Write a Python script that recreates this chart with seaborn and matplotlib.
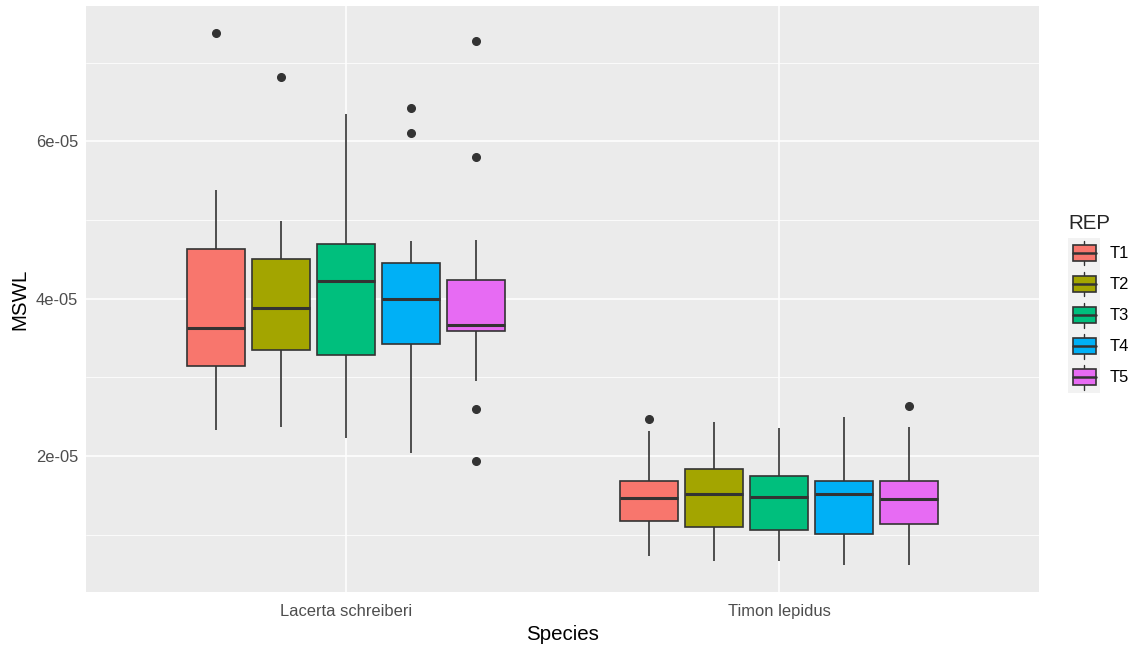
import numpy as np
import pandas as pd
import matplotlib
matplotlib.use("Agg")
import matplotlib.pyplot as plt
import seaborn as sns
from matplotlib.legend_handler import HandlerBase
from matplotlib.patches import Rectangle, Patch
from matplotlib.lines import Line2D
from matplotlib.ticker import FixedLocator, FuncFormatter

# ---------------- data (in MSWL units) ----------------
species = ["Lacerta schreiberi", "Timon lepidus"]
reps = ["T1", "T2", "T3", "T4", "T5"]
colors = ["#F8766D", "#A3A500", "#00BF7D", "#00B0F6", "#E76BF3"]

lacerta_low = [2.33e-5, 2.37e-5, 2.23e-5, 2.04e-5, 2.95e-5]
lacerta_q1 = [3.14e-5, 3.35e-5, 3.28e-5, 3.42e-5, 3.59e-5]
lacerta_med = [3.63e-5, 3.88e-5, 4.22e-5, 4.00e-5, 3.67e-5]
lacerta_q3 = [4.63e-5, 4.50e-5, 4.69e-5, 4.45e-5, 4.24e-5]
lacerta_high = [5.38e-5, 4.98e-5, 6.35e-5, 4.73e-5, 4.75e-5]
lacerta_out_low = [[], [], [], [], [2.60e-5, 1.94e-5]]
lacerta_out_high = [[7.38e-5], [6.81e-5], [], [6.11e-5, 6.42e-5], [5.80e-5, 7.28e-5]]

timon_low = [0.73e-5, 0.66e-5, 0.66e-5, 0.61e-5, 0.61e-5]
timon_q1 = [1.18e-5, 1.10e-5, 1.06e-5, 1.01e-5, 1.14e-5]
timon_med = [1.465e-5, 1.52e-5, 1.48e-5, 1.52e-5, 1.45e-5]
timon_q3 = [1.68e-5, 1.83e-5, 1.75e-5, 1.68e-5, 1.68e-5]
timon_high = [2.32e-5, 2.43e-5, 2.36e-5, 2.49e-5, 2.37e-5]
timon_out_low = [[], [], [], [], []]
timon_out_high = [[2.47e-5], [], [], [], [2.64e-5]]


def group_values(low, q1, med, q3, high, out_lo, out_hi):
    """Sorted sample (4k+1 points) whose quartiles / whiskers are the read values."""
    a = len(out_lo) + 1
    b = len(out_hi) + 1
    k = max(a, b)
    vals = sorted(out_lo) + [low] + [q1] * (k - a)
    vals += [q1] + [q1] * (k - 1)
    vals += [med] + [med] * (k - 1)
    vals += [q3] + [q3] * (k - b) + [high] + sorted(out_hi)
    return vals


rows = []
summaries = {
    species[0]: (lacerta_low, lacerta_q1, lacerta_med, lacerta_q3, lacerta_high,
                 lacerta_out_low, lacerta_out_high),
    species[1]: (timon_low, timon_q1, timon_med, timon_q3, timon_high,
                 timon_out_low, timon_out_high),
}
for sp, (lo, q1, md, q3, hi, olo, ohi) in summaries.items():
    for i, r in enumerate(reps):
        for v in group_values(lo[i], q1[i], md[i], q3[i], hi[i], olo[i], ohi[i]):
            rows.append({"Species": sp, "REP": r, "MSWL": v})
df = pd.DataFrame(rows)

# ---------------- style ----------------
sns.set_theme(style="darkgrid")
plt.rcParams["font.family"] = ["Liberation Sans", "DejaVu Sans"]

TICK_FS = 11.9
TITLE_FS = 14.8

fig = plt.figure(figsize=(11.33, 6.45), dpi=100)
ax = fig.add_axes([86 / 1133, 1 - 592 / 645, (1039 - 86) / 1133, (592 - 6) / 645])
ax.set_facecolor("#EBEBEB")

palette = dict(zip(reps, colors))
sns.boxplot(
    data=df, x="Species", y="MSWL", hue="REP",
    order=species, hue_order=reps, palette=palette,
    width=0.75, gap=0.1, dodge=True, whis=1.5,
    linecolor="#333333", linewidth=1.2, saturation=1,
    showcaps=False,
    medianprops=dict(linewidth=2.2, color="#333333"),
    flierprops=dict(marker="o", markerfacecolor="#333333",
                    markeredgecolor="#333333", markersize=5.5),
    legend=False, ax=ax, zorder=3,
)

# axes limits like ggplot (5% expansion continuous, 0.6 discrete)
vmin, vmax = df["MSWL"].min(), df["MSWL"].max()
span = vmax - vmin
ax.set_ylim(vmin - 0.05 * span, vmax + 0.05 * span)
ax.set_xlim(-0.6, 1.6)

ax.yaxis.set_major_locator(FixedLocator([2e-5, 4e-5, 6e-5]))
ax.yaxis.set_minor_locator(FixedLocator([1e-5, 3e-5, 5e-5, 7e-5]))
ax.yaxis.set_major_formatter(FuncFormatter(lambda v, p: f"{v:.0e}"))

ax.grid(which="major", color="white", linewidth=1.1, zorder=0)
ax.grid(which="minor", axis="y", color="white", linewidth=0.55, zorder=0)
ax.set_axisbelow(True)
for s in ax.spines.values():
    s.set_visible(False)

ax.tick_params(axis="both", which="major", length=3, width=0.8, color="#333333",
               labelsize=TICK_FS, labelcolor="#4D4D4D")
ax.tick_params(axis="x", which="major", pad=5.8)
ax.tick_params(axis="y", which="major", pad=2.5)
ax.tick_params(axis="y", which="minor", length=0)

ax.set_xlabel("Species", fontsize=TITLE_FS, color="black", labelpad=4.0)
ax.set_ylabel("MSWL", fontsize=TITLE_FS, color="black", labelpad=4.5)


# ---------------- ggplot-like legend ----------------
class BoxKey(HandlerBase):
    def create_artists(self, legend, orig_handle, xdescent, ydescent,
                       width, height, fontsize, trans):
        x0, y0 = -xdescent, -ydescent
        bg = Rectangle((x0, y0), width, height, facecolor="#F2F2F2",
                       edgecolor="none", transform=trans)
        bw, bh = width * 0.72, height * 0.52
        bx, by = x0 + (width - bw) / 2, y0 + (height - bh) / 2
        cx = x0 + width / 2
        wl = Line2D([cx, cx], [y0 + height * 0.1, by], color="#333333",
                    lw=1.0, transform=trans)
        wh = Line2D([cx, cx], [by + bh, y0 + height * 0.9], color="#333333",
                    lw=1.0, transform=trans)
        box = Rectangle((bx, by), bw, bh, facecolor=orig_handle.get_facecolor(),
                        edgecolor="#333333", lw=1.2, transform=trans)
        med = Line2D([bx, bx + bw], [by + bh / 2] * 2, color="#333333",
                     lw=1.8, transform=trans)
        return [bg, wl, wh, box, med]


handles = [Patch(facecolor=c) for c in colors]
leg = ax.legend(
    handles, reps, title="REP", loc="center left", bbox_to_anchor=(1.0, 0.493),
    frameon=False, fontsize=TICK_FS, title_fontsize=TITLE_FS,
    handler_map={Patch: BoxKey()},
    handlelength=1.94, handleheight=2.51, handletextpad=0.55,
    labelspacing=0.0, borderpad=0.2, borderaxespad=1.56, alignment="left",
)
leg._legend_box.sep = 3.6  # gap between title and keys (points)
for t in leg.get_texts():
    t.set_color("black")

fig.savefig("out.png", dpi=100)
